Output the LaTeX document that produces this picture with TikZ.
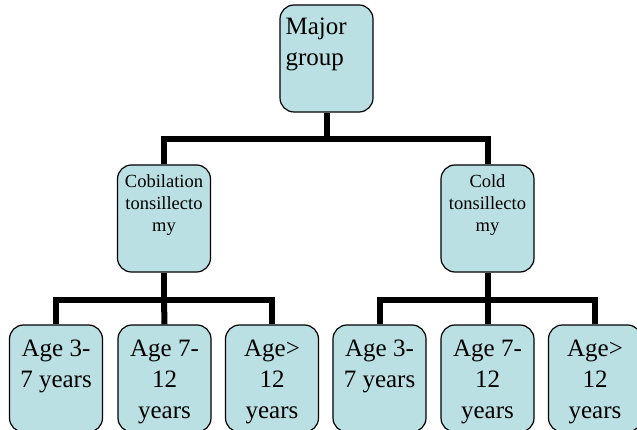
\documentclass[tikz,border=0pt]{standalone}
\usepackage{fontspec}
\setmainfont{Liberation Serif}
\usepackage{xcolor}
\definecolor{boxblue}{RGB}{187,224,227}
\usetikzlibrary{positioning}
\tikzset{%
    box/.style={%
        draw, line width=1.2pt, rounded corners=14pt, fill=boxblue,
        minimum width=93pt, minimum height=107pt, inner sep=0pt
    },
    bigtext/.style={inner sep=0pt, align=center, font=\fontsize{25}{31}\selectfont},
    smalltext/.style={inner sep=0pt, align=center, font=\fontsize{18.5}{22}\selectfont},
    link/.style={line width=6pt}
}

\begin{document}
\begin{tikzpicture}[x=1pt,y=-1pt]
\useasboundingbox (0,0) rectangle (637,430);
\node[box] (major) at (326.5,58.5) {};
\node[box] (cob)   at (164,218.5) {};
\node[box] (cold)  at (487.5,218.5) {};
\node[box] (cobA)  at (56,378.5) {};
\node[box] (cobB)  at (164.5,378.5) {};
\node[box] (cobC)  at (272,378.5) {};
\node[box] (coldA) at (379.5,378.5) {};
\node[box] (coldB) at (487.5,378.5) {};
\node[box] (coldC) at (595,378.5) {};
\node[bigtext, align=left, anchor=north west] (majortext) at ([xshift=6pt,yshift=-13pt]major.north west) {Major\\group};
\node[smalltext, below=10pt of cob.north]  (cobtext)  {Cobilation\\tonsillecto\\my};
\node[smalltext, below=10pt of cold.north] (coldtext) {Cold\\tonsillecto\\my};
\node[bigtext, below=15pt of cobA.north]  (cobAtext)  {Age 3-\\7 years};
\node[bigtext, below=15pt of cobB.north]  (cobBtext)  {Age 7-\\12\\years};
\node[bigtext, below=15pt of cobC.north]  (cobCtext)  {Age>\\12\\years};
\node[bigtext, below=15pt of coldA.north] (coldAtext) {Age 3-\\7 years};
\node[bigtext, below=15pt of coldB.north] (coldBtext) {Age 7-\\12\\years};
\node[bigtext, below=15pt of coldC.north] (coldCtext) {Age>\\12\\years};
\coordinate (jtop)   at (326.5,139);
\coordinate (jcob)   at (164,300);
\coordinate (jcold)  at (487.5,300);
\draw[link] (major.south) -- (jtop);
\draw[link] (cob.north) |- (jtop) -| (cold.north);
\draw[link] (cob.south) -- (jcob);
\draw[link] (cobA.north) |- (jcob) -| (cobC.north);
\draw[link] (jcob) -- (cobB.north);
\draw[link] (cold.south) -- (jcold);
\draw[link] (coldA.north) |- (jcold) -| (coldC.north);
\draw[link] (jcold) -- (coldB.north);
\end{tikzpicture}
\end{document}
